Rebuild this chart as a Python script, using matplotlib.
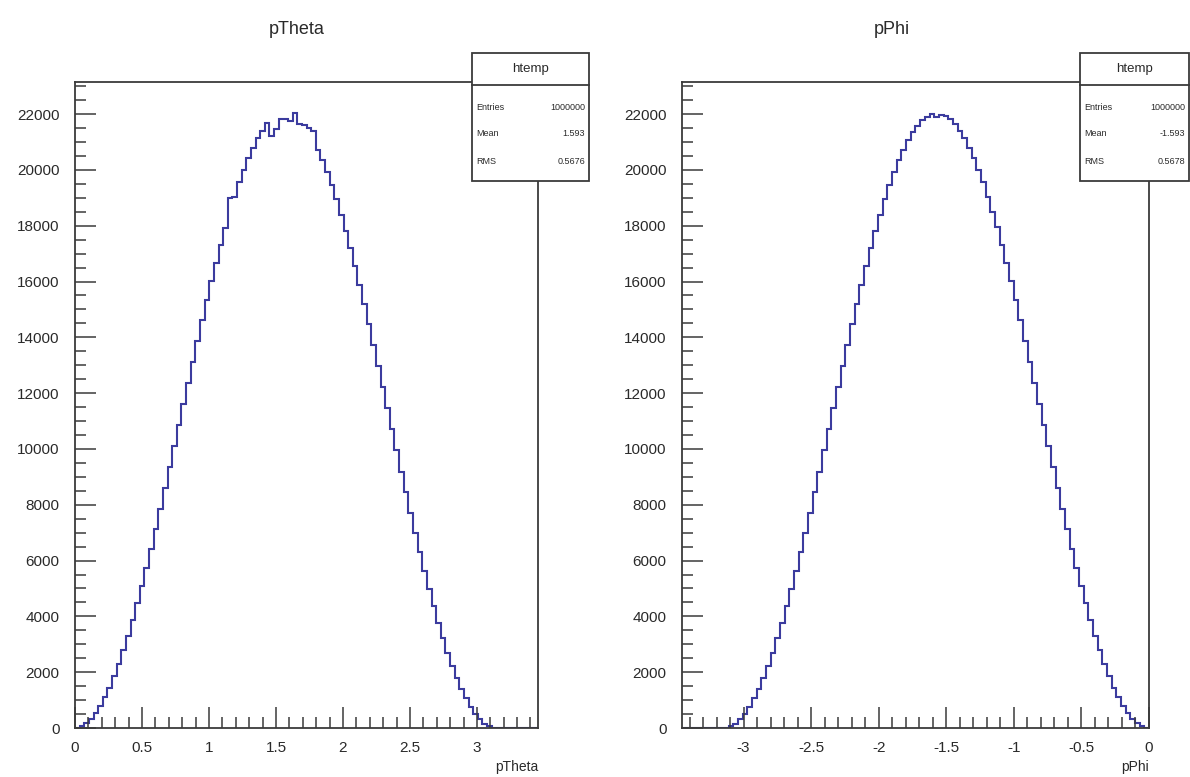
import matplotlib
matplotlib.use("Agg")
import matplotlib.pyplot as plt
from matplotlib.ticker import MultipleLocator
from matplotlib.patches import Rectangle
import numpy as np

plt.rcParams['font.family'] = ['Liberation Sans', 'DejaVu Sans']

# ---- data (bin contents) ----
theta_range = (0.0, 3.456)
theta_counts = [
    10, 60, 170, 320, 530, 790, 1100, 1450, 1850, 2300,
    2780, 3310, 3870, 4470, 5100, 5750, 6430, 7140, 7860, 8600,
    9350, 10100, 10860, 11620, 12380, 13120, 13880, 14610, 15320, 16020,
    16680, 17320, 17930, 18980, 19020, 19550, 20010, 20430, 20800, 21130,
    21400, 21680, 21220, 21470, 21830, 21830, 21760, 22050, 21650, 21620,
    21500, 21400, 20730, 20340, 19920, 19450, 18940, 18390, 17800, 17190,
    16540, 15870, 15180, 14460, 13730, 12980, 12230, 11470, 10710, 9950,
    9190, 8450, 7710, 7000, 6300, 5620, 4980, 4360, 3770, 3220,
    2700, 2230, 1790, 1400, 1060, 760, 510, 310, 160, 60,
    6, 0, 0, 0, 0, 0, 0, 0, 0, 0,
]
phi_range = (-3.456, 0.0)
phi_counts = [
    0, 0, 0, 0, 0, 0, 0, 0, 0, 6,
    60, 160, 310, 510, 760, 1060, 1400, 1790, 2230, 2700,
    3220, 3770, 4360, 4980, 5620, 6300, 7000, 7710, 8450, 9190,
    9950, 10710, 11470, 12230, 12980, 13730, 14460, 15180, 15870, 16540,
    17190, 17800, 18390, 18940, 19450, 19920, 20340, 20730, 21060, 21350,
    21590, 21780, 21910, 22000, 21900, 21980, 21940, 21820, 21630, 21400,
    21130, 20800, 20430, 20010, 19550, 19040, 18500, 17940, 17320, 16680,
    16020, 15320, 14610, 13880, 13120, 12380, 11620, 10860, 10100, 9350,
    8600, 7860, 7140, 6430, 5750, 5100, 4470, 3870, 3310, 2780,
    2300, 1850, 1450, 1100, 790, 530, 320, 170, 60, 10,
]
titles = ["pTheta", "pPhi"]
xlabels = ["pTheta", "pPhi"]
stats_rows = [
    [("Entries", "1000000"), ("Mean", "1.593"), ("RMS", "0.5676")],
    [("Entries", "1000000"), ("Mean", "-1.593"), ("RMS", "0.5678")],
]

LINE = '#3b3b9e'
FRAME = '#3a3a3a'
TXT = '#2a2a2a'

fig = plt.figure(figsize=(11.90, 7.77), dpi=100)

axes_rects = [
    [75 / 1190, 1 - 728 / 777, 463 / 1190, 646 / 777],
    [682 / 1190, 1 - 728 / 777, 467 / 1190, 646 / 777],
]
ranges = [theta_range, phi_range]
counts_all = [theta_counts, phi_counts]
title_x = [297 / 1190, 892 / 1190]
box_rects = [
    (472 / 1190, 1 - 181 / 777, 117 / 1190, 128 / 777),
    (1080 / 1190, 1 - 181 / 777, 109 / 1190, 128 / 777),
]

for k in range(2):
    ax = fig.add_axes(axes_rects[k])
    lo, hi = ranges[k]
    edges = np.linspace(lo, hi, len(counts_all[k]) + 1)
    ax.stairs(counts_all[k], edges, color=LINE, lw=1.5)
    ax.set_xlim(lo, hi)
    ax.set_ylim(0, 23150)
    ax.xaxis.set_major_locator(MultipleLocator(0.5))
    ax.xaxis.set_minor_locator(MultipleLocator(0.1))
    ax.yaxis.set_major_locator(MultipleLocator(2000))
    ax.yaxis.set_minor_locator(MultipleLocator(500))
    ax.tick_params(axis='x', which='major', direction='in', length=15, width=1.1,
                   color=FRAME, labelsize=11, labelcolor=TXT, pad=9)
    ax.tick_params(axis='x', which='minor', direction='in', length=8, width=1.1,
                   color=FRAME)
    ax.tick_params(axis='y', which='major', direction='in', length=15, width=1.1,
                   color=FRAME, labelsize=11, labelcolor=TXT, pad=11)
    ax.tick_params(axis='y', which='minor', direction='in', length=8, width=1.1,
                   color=FRAME)
    for s in ax.spines.values():
        s.set_color(FRAME)
        s.set_linewidth(1.3)
    ax.xaxis.set_major_formatter(plt.FuncFormatter(lambda v, p: f"{v:g}"))
    ax.set_xlabel(xlabels[k], fontsize=10, color=TXT, loc='right', labelpad=4)

    fig.text(title_x[k], 1 - 30 / 777, titles[k], ha='center', va='center',
             fontsize=13, color=TXT)

    bx, by, bw, bh = box_rects[k]
    fig.patches.append(Rectangle((bx, by), bw, bh, transform=fig.transFigure,
                                 facecolor='white', edgecolor=FRAME, lw=1.3,
                                 zorder=5))
    hy = 1 - 85 / 777
    fig.add_artist(plt.Line2D([bx, bx + bw], [hy, hy], transform=fig.transFigure,
                              color=FRAME, lw=1.3, zorder=6))
    fig.text(bx + bw / 2, 1 - 69 / 777, "htemp", ha='center', va='center',
             fontsize=9.5, color=TXT, zorder=7)
    row_y = [107, 134, 161]
    for (name, val), yy in zip(stats_rows[k], row_y):
        fig.text(bx + 4 / 1190, 1 - yy / 777, name, ha='left', va='center',
                 fontsize=6.5, color=TXT, zorder=7)
        fig.text(bx + bw - 4 / 1190, 1 - yy / 777, val, ha='right', va='center',
                 fontsize=6.5, color=TXT, zorder=7)

fig.savefig("out.png", dpi=100)
